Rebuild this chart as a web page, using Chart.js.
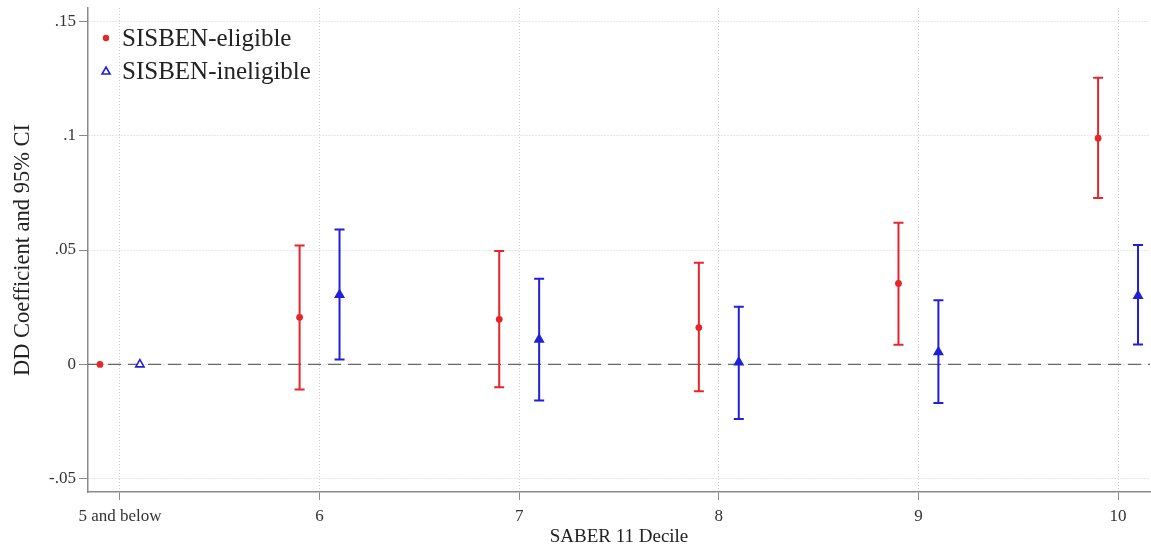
<!DOCTYPE html>
<html>
<head>
<meta charset="utf-8">
<title>DD Coefficient by SABER 11 Decile</title>
<script src="https://cdn.jsdelivr.net/npm/chart.js@4/dist/chart.umd.min.js"></script>
<style>
    html, body { margin: 0; padding: 0; background: #fff; overflow: hidden; }
</style>
</head>
<body>
<canvas id="ddChart" width="1151" height="550"></canvas>
<script>
// deciles and tick labels
const deciles = [5, 6, 7, 8, 9, 10];
const decileLabels = ["5 and below", "6", "7", "8", "9", "10"];
const yTicks = [-0.05, 0, 0.05, 0.1, 0.15];

// SISBEN-eligible: coefficient and 95% CI
const eligibleCoef = [0, 0.0206, 0.0197, 0.0161, 0.0354, 0.0988];
const eligibleLow  = [0, -0.0109, -0.0100, -0.0117, 0.0086, 0.0727];
const eligibleHigh = [0, 0.0520, 0.0496, 0.0444, 0.0619, 0.1252];

// SISBEN-ineligible: coefficient and 95% CI
const ineligibleCoef = [0, 0.0304, 0.0109, 0.0010, 0.0054, 0.0300];
const ineligibleLow  = [0, 0.0022, -0.0157, -0.0238, -0.0168, 0.0087];
const ineligibleHigh = [0, 0.0590, 0.0374, 0.0252, 0.0281, 0.0522];

const RED = "#e6262b";
const BLUE = "#2020d8";
const SERIF = "'Liberation Serif', 'DejaVu Serif', serif";

document.addEventListener("DOMContentLoaded", function () {
    const ctx = document.getElementById("ddChart").getContext("2d");

    // dashed zero line + error bars, drawn under the markers
    const errorBars = {
        id: "errorBars",
        beforeDatasetsDraw(chart) {
            const { ctx, chartArea, scales } = chart;
            const y0 = scales.y.getPixelForValue(0);
            ctx.save();
            ctx.strokeStyle = "#666";
            ctx.lineWidth = 1.2;
            ctx.setLineDash([13, 7]);
            ctx.beginPath();
            ctx.moveTo(chartArea.left, y0);
            ctx.lineTo(chartArea.right, y0);
            ctx.stroke();
            ctx.setLineDash([]);

            chart.data.datasets.forEach((ds, di) => {
                const meta = chart.getDatasetMeta(di);
                ctx.strokeStyle = ds.borderColor;
                ctx.lineWidth = 2;
                meta.data.forEach((pt, i) => {
                    if (ds.errLow[i] === ds.errHigh[i]) return;
                    const yl = scales.y.getPixelForValue(ds.errLow[i]);
                    const yh = scales.y.getPixelForValue(ds.errHigh[i]);
                    ctx.beginPath();
                    ctx.moveTo(pt.x, yl);
                    ctx.lineTo(pt.x, yh);
                    ctx.moveTo(pt.x - 5, yl);
                    ctx.lineTo(pt.x + 5, yl);
                    ctx.moveTo(pt.x - 5, yh);
                    ctx.lineTo(pt.x + 5, yh);
                    ctx.stroke();
                });
            });
            ctx.restore();
        }
    };

    // legend in the upper-left corner of the plot
    const cornerLegend = {
        id: "cornerLegend",
        afterDraw(chart) {
            const { ctx } = chart;
            ctx.save();
            ctx.font = "25px " + SERIF;
            ctx.fillStyle = "#222";
            ctx.textBaseline = "middle";
            ctx.fillText("SISBEN-eligible", 122, 39);
            ctx.fillText("SISBEN-ineligible", 122, 72);

            ctx.fillStyle = RED;
            ctx.beginPath();
            ctx.arc(106, 38, 3.2, 0, Math.PI * 2);
            ctx.fill();

            ctx.strokeStyle = BLUE;
            ctx.lineWidth = 1.6;
            ctx.beginPath();
            ctx.moveTo(106, 67);
            ctx.lineTo(110, 74);
            ctx.lineTo(102, 74);
            ctx.closePath();
            ctx.stroke();
            ctx.restore();
        }
    };

    new Chart(ctx, {
        type: "scatter",
        data: {
            datasets: [
                {
                    label: "SISBEN-eligible",
                    data: deciles.map((d, i) => ({ x: d - 0.1, y: eligibleCoef[i] })),
                    errLow: eligibleLow,
                    errHigh: eligibleHigh,
                    pointStyle: "circle",
                    pointRadius: 3.4,
                    backgroundColor: RED,
                    borderColor: RED,
                    borderWidth: 0
                },
                {
                    label: "SISBEN-ineligible",
                    data: deciles.map((d, i) => ({ x: d + 0.1, y: ineligibleCoef[i] })),
                    errLow: ineligibleLow,
                    errHigh: ineligibleHigh,
                    pointStyle: "triangle",
                    pointRadius: 4.8,
                    backgroundColor: deciles.map((d, i) => i === 0 ? "#fff" : BLUE),
                    borderColor: BLUE,
                    borderWidth: 1.6
                }
            ]
        },
        options: {
            responsive: false,
            animation: false,
            layout: { autoPadding: false, padding: { top: 8, right: 1, left: 0, bottom: 0 } },
            plugins: {
                legend: { display: false },
                tooltip: { enabled: false }
            },
            scales: {
                x: {
                    type: "linear",
                    min: 4.84,
                    max: 10.16,
                    afterBuildTicks: (scale) => {
                        scale.ticks = deciles.map(v => ({ value: v }));
                    },
                    afterFit: (scale) => {
                        scale.height = 58;
                        scale.paddingLeft = 0;
                        scale.paddingRight = 0;
                    },
                    grid: {
                        color: "#cfcfcf",
                        tickColor: "#8a8a8a",
                        tickLength: 8,
                        tickBorderDash: []
                    },
                    border: { color: "#8a8a8a", width: 1.5, dash: [1, 2] },
                    ticks: {
                        color: "#333",
                        padding: 6,
                        maxRotation: 0,
                        font: { family: SERIF, size: 17 },
                        callback: (value) => decileLabels[deciles.indexOf(value)]
                    },
                    title: {
                        display: true,
                        text: "SABER 11 Decile",
                        color: "#222",
                        font: { family: SERIF, size: 19, lineHeight: 1 },
                        padding: { top: 0, bottom: 3 }
                    }
                },
                y: {
                    min: -0.0557,
                    max: 0.1557,
                    afterBuildTicks: (scale) => {
                        scale.ticks = yTicks.map(v => ({ value: v }));
                    },
                    afterFit: (scale) => {
                        scale.width = 88;
                        scale.paddingTop = 0;
                        scale.paddingBottom = 0;
                    },
                    grid: {
                        color: "#cfcfcf",
                        tickColor: "#8a8a8a",
                        tickLength: 9,
                        tickBorderDash: []
                    },
                    border: { color: "#8a8a8a", width: 1.5, dash: [1, 2] },
                    ticks: {
                        color: "#333",
                        padding: 3,
                        font: { family: SERIF, size: 17 },
                        callback: (value) => value === 0 ? "0" : String(value).replace("0.", ".")
                    },
                    title: {
                        display: true,
                        text: "DD Coefficient and 95% CI",
                        color: "#222",
                        font: { family: SERIF, size: 22.5, lineHeight: 1.2 },
                        padding: { top: 10, bottom: 0 }
                    }
                }
            }
        },
        plugins: [errorBars, cornerLegend]
    });
});
</script>
</body>
</html>
